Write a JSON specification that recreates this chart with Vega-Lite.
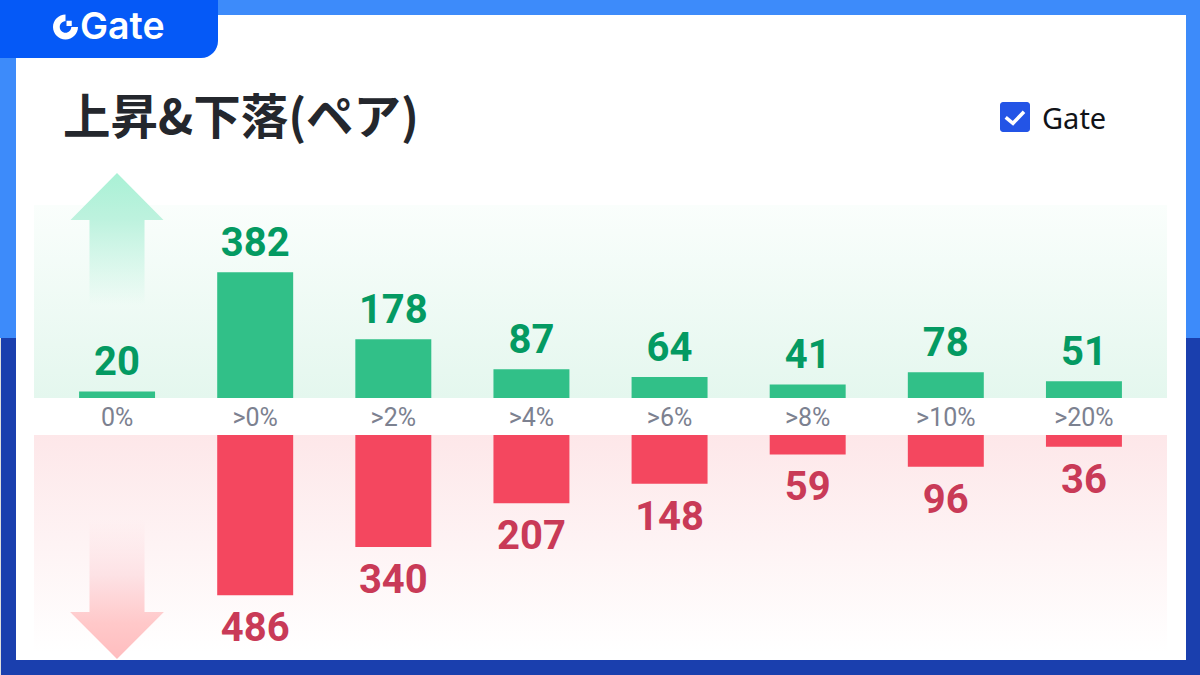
{
  "$schema": "https://vega.github.io/schema/vega-lite/v6.json",
  "width": 1200,
  "height": 675,
  "padding": 0,
  "autosize": "none",
  "background": "#1a3fae",
  "datasets": {
    "rise": [
      {"range": "0%", "count": 20},
      {"range": ">0%", "count": 382},
      {"range": ">2%", "count": 178},
      {"range": ">4%", "count": 87},
      {"range": ">6%", "count": 64},
      {"range": ">8%", "count": 41},
      {"range": ">10%", "count": 78},
      {"range": ">20%", "count": 51}
    ],
    "fall": [
      {"range": ">0%", "count": 486},
      {"range": ">2%", "count": 340},
      {"range": ">4%", "count": 207},
      {"range": ">6%", "count": 148},
      {"range": ">8%", "count": 59},
      {"range": ">10%", "count": 96},
      {"range": ">20%", "count": 36}
    ]
  },
  "layer": [
    {
      "data": {"values": [{}]},
      "layer": [
        {
          "mark": {"type": "rect", "fill": "#3d8bfa"},
          "encoding": {
            "x": {"datum": 0, "type": "quantitative", "scale": {"domain": [0, 1200], "range": [0, 1200], "nice": false}, "axis": null},
            "x2": {"datum": 1200},
            "y": {"datum": 0, "type": "quantitative", "scale": {"domain": [0, 675], "range": [0, 675], "nice": false}, "axis": null},
            "y2": {"datum": 338}
          }
        },
        {
          "mark": {"type": "rect", "fill": "#ffffff"},
          "encoding": {
            "x": {"datum": 16, "type": "quantitative", "axis": null},
            "x2": {"datum": 1186},
            "y": {"datum": 15, "type": "quantitative", "axis": null},
            "y2": {"datum": 660}
          }
        },
        {
          "mark": {"type": "rect", "fill": "#0559f7", "cornerRadiusBottomRight": 17},
          "encoding": {
            "x": {"datum": 0, "type": "quantitative", "axis": null},
            "x2": {"datum": 218},
            "y": {"datum": 0, "type": "quantitative", "axis": null},
            "y2": {"datum": 58}
          }
        },
        {
          "mark": {"type": "rect", "fill": {"gradient": "linear", "x1": 0, "y1": 0, "x2": 0, "y2": 1, "stops": [{"offset": 0, "color": "#fafefc"}, {"offset": 1, "color": "#e4f7ee"}]}},
          "encoding": {
            "x": {"datum": 34, "type": "quantitative", "axis": null},
            "x2": {"datum": 1167},
            "y": {"datum": 205, "type": "quantitative", "axis": null},
            "y2": {"datum": 398}
          }
        },
        {
          "mark": {"type": "rect", "fill": {"gradient": "linear", "x1": 0, "y1": 0, "x2": 0, "y2": 1, "stops": [{"offset": 0, "color": "#fde7e9"}, {"offset": 1, "color": "#ffffff"}]}},
          "encoding": {
            "x": {"datum": 34, "type": "quantitative", "axis": null},
            "x2": {"datum": 1167},
            "y": {"datum": 435, "type": "quantitative", "axis": null},
            "y2": {"datum": 652}
          }
        },
        {
          "mark": {
            "type": "point",
            "shape": "M0,-1L0.705,-0.288L0.417,-0.288L0.417,1L-0.417,1L-0.417,-0.288L-0.705,-0.288Z",
            "size": 17424,
            "filled": true,
            "opacity": 1,
            "strokeWidth": 0,
            "fill": {"gradient": "linear", "x1": 0, "y1": 0, "x2": 0, "y2": 1, "stops": [{"offset": 0, "color": "#a9f1d5"}, {"offset": 0.35, "color": "#bdf2de"}, {"offset": 1, "color": "rgba(189,242,222,0)"}]}
          },
          "encoding": {
            "x": {"datum": 117, "type": "quantitative", "axis": null},
            "y": {"datum": 239, "type": "quantitative", "axis": null}
          }
        },
        {
          "mark": {
            "type": "point",
            "shape": "M0,1L0.67,0.329L0.393,0.329L0.393,-1L-0.393,-1L-0.393,0.329L-0.67,0.329Z",
            "size": 19600,
            "filled": true,
            "opacity": 1,
            "strokeWidth": 0,
            "fill": {"gradient": "linear", "x1": 0, "y1": 0, "x2": 0, "y2": 1, "stops": [{"offset": 0, "color": "rgba(253,226,229,0)"}, {"offset": 0.4, "color": "#fde2e5"}, {"offset": 0.75, "color": "#ffc8c9"}, {"offset": 1, "color": "#ffbdbf"}]}
          },
          "encoding": {
            "x": {"datum": 117, "type": "quantitative", "axis": null},
            "y": {"datum": 589, "type": "quantitative", "axis": null}
          }
        },
        {
          "mark": {
            "type": "point",
            "shape": "M0,-1A1,1,0,1,0,1,0L0.46,0A0.46,0.46,0,1,1,0,-0.46ZM0.08,-0.5L0.5,-0.5L0.5,-0.08L0.08,-0.08Z",
            "size": 625,
            "filled": true,
            "opacity": 1,
            "strokeWidth": 0,
            "fill": "#ffffff"
          },
          "encoding": {
            "x": {"datum": 65.5, "type": "quantitative", "axis": null},
            "y": {"datum": 27, "type": "quantitative", "axis": null}
          }
        },
        {
          "mark": {"type": "text", "text": "Gate", "align": "left", "baseline": "alphabetic", "font": "Inter", "fontWeight": 600, "fontSize": 37.5, "fill": "#ffffff"},
          "encoding": {
            "x": {"datum": 80, "type": "quantitative", "axis": null},
            "y": {"datum": 39, "type": "quantitative", "axis": null}
          }
        },
        {
          "mark": {"type": "text", "text": "上昇&下落(ペア)", "align": "left", "baseline": "alphabetic", "font": "Noto Sans CJK JP", "fontWeight": 700, "fontSize": 47.5, "fill": "#24272d"},
          "encoding": {
            "x": {"datum": 63, "type": "quantitative", "axis": null},
            "y": {"datum": 134, "type": "quantitative", "axis": null}
          }
        },
        {
          "mark": {"type": "rect", "fill": "#2354e6", "cornerRadius": 3},
          "encoding": {
            "x": {"datum": 1000, "type": "quantitative", "axis": null},
            "x2": {"datum": 1030},
            "y": {"datum": 102, "type": "quantitative", "axis": null},
            "y2": {"datum": 132}
          }
        },
        {
          "mark": {"type": "point", "shape": "M-0.93,-0.02L-0.2,0.58L0.9,-0.58", "size": 400, "filled": false, "opacity": 1, "fill": null, "stroke": "#ffffff", "strokeWidth": 3.5},
          "encoding": {
            "x": {"datum": 1015, "type": "quantitative", "axis": null},
            "y": {"datum": 117.5, "type": "quantitative", "axis": null}
          }
        },
        {
          "mark": {"type": "text", "text": "Gate", "align": "left", "baseline": "alphabetic", "font": "Noto Sans", "fontSize": 29, "fill": "#111318"},
          "encoding": {
            "x": {"datum": 1042, "type": "quantitative", "axis": null},
            "y": {"datum": 129, "type": "quantitative", "axis": null}
          }
        }
      ]
    },
    {
      "data": {"name": "rise"},
      "encoding": {
        "x": {
          "field": "range",
          "type": "nominal",
          "sort": null,
          "scale": {
            "domain": ["0%", ">0%", ">2%", ">4%", ">6%", ">8%", ">10%", ">20%"],
            "range": [48, 1153],
            "paddingInner": 0.45,
            "paddingOuter": 0.225
          },
          "axis": {
            "title": null,
            "orient": "bottom",
            "offset": -270,
            "domain": false,
            "ticks": false,
            "labelPadding": 0,
            "labelAngle": 0,
            "labelFont": "Roboto",
            "labelFontSize": 25,
            "labelColor": "#7c8190",
            "zindex": 1
          }
        },
        "y": {
          "field": "count",
          "type": "quantitative",
          "scale": {"domain": [-840.7, 1207.9], "range": [675, 0], "nice": false, "zero": false},
          "axis": null
        }
      },
      "layer": [
        {"mark": {"type": "bar", "fill": "#31c088"}},
        {
          "mark": {"type": "text", "baseline": "alphabetic", "dy": -16, "font": "Roboto", "fontWeight": 700, "fontSize": 40, "fill": "#049a62"},
          "encoding": {"text": {"field": "count", "type": "quantitative"}}
        }
      ]
    },
    {
      "data": {"name": "fall"},
      "encoding": {
        "x": {
          "field": "range",
          "type": "nominal",
          "sort": null,
          "scale": {
            "domain": ["0%", ">0%", ">2%", ">4%", ">6%", ">8%", ">10%", ">20%"],
            "range": [48, 1153],
            "paddingInner": 0.45,
            "paddingOuter": 0.225
          },
          "axis": null
        },
        "y": {
          "field": "count",
          "type": "quantitative",
          "scale": {"domain": [-1320.2, 728.4], "range": [0, 675], "nice": false, "zero": false},
          "axis": null
        }
      },
      "layer": [
        {"mark": {"type": "bar", "fill": "#f4475f"}},
        {
          "mark": {"type": "text", "baseline": "alphabetic", "dy": 46, "font": "Roboto", "fontWeight": 700, "fontSize": 40, "fill": "#c93a57"},
          "encoding": {"text": {"field": "count", "type": "quantitative"}}
        }
      ]
    }
  ],
  "resolve": {"scale": {"x": "independent", "y": "independent"}}
}
